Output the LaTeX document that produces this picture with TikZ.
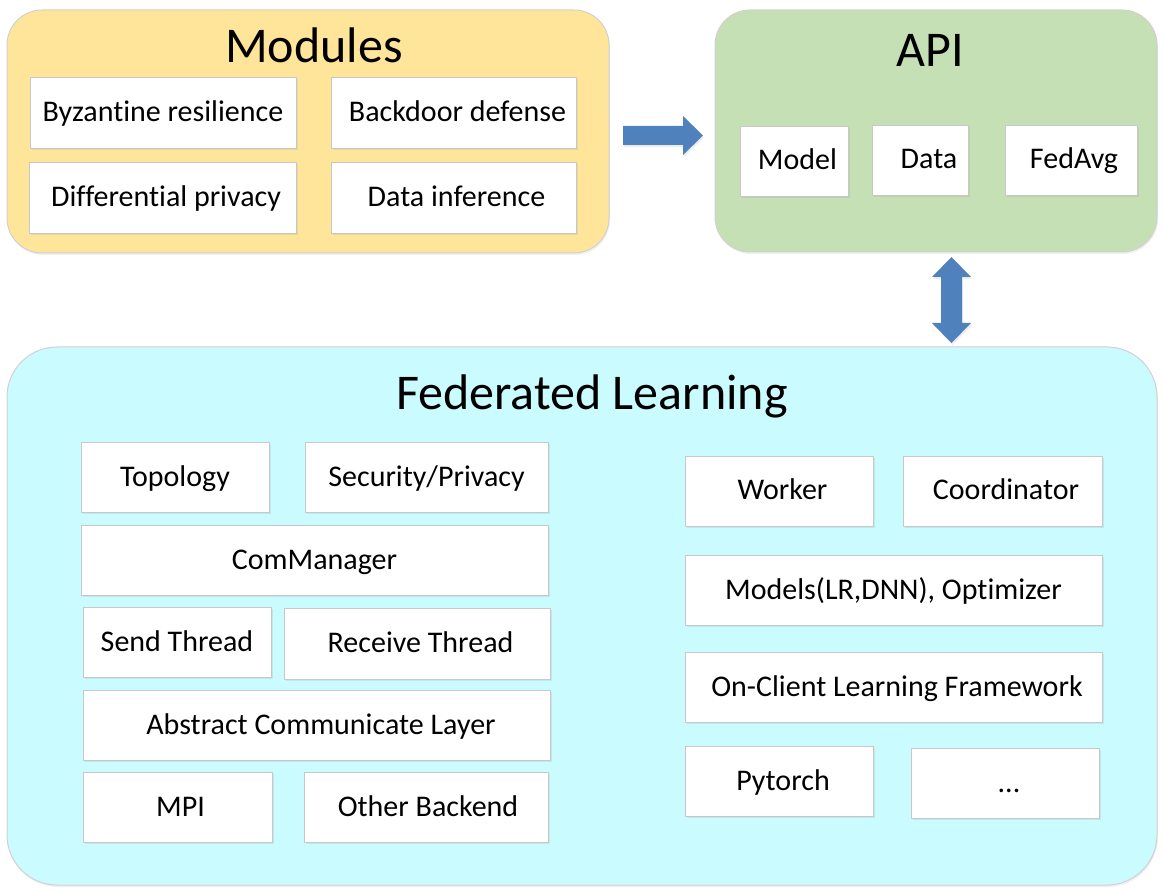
\documentclass[tikz,border=0pt]{standalone}
\usepackage{fontspec}
\setmainfont{Carlito}[Ligatures=NoCommon]
\usetikzlibrary{shadows}
\definecolor{modfill}{HTML}{FFE599}
\definecolor{apifill}{HTML}{C5E0B4}
\definecolor{flfill}{HTML}{CAFBFE}
\definecolor{arrowblue}{HTML}{4F81BD}
\definecolor{boxborder}{HTML}{C8C8C8}
\tikzset{
  container/.style={draw=black!18, line width=1pt, drop shadow={shadow xshift=1pt, shadow yshift=-2pt, opacity=0.12}},
  titletext/.style={font=\fontsize{50}{56}\selectfont, inner sep=0pt},
  box/.style={draw=boxborder, line width=0.8pt, fill=white, font=\fontsize{30}{34}\selectfont, inner sep=0pt, text height=24pt, text depth=6pt, drop shadow={shadow xshift=1.5pt, shadow yshift=-2pt, opacity=0.15}},
  blockarrow/.style={fill=arrowblue, drop shadow={shadow xshift=1pt, shadow yshift=-2pt, opacity=0.15}},
}
\begin{document}
\begin{tikzpicture}[x=1pt,y=-1pt]
\useasboundingbox (0,0) rectangle (1163,893);
% containers
\node[container, fill=modfill, rounded corners=35pt, minimum width=602pt, minimum height=243pt] (modules) at (308,131.5) {};
\node[container, fill=apifill, rounded corners=35pt, minimum width=442pt, minimum height=242pt] (api) at (936,131) {};
\node[container, fill=flfill, rounded corners=50pt, minimum width=1150pt, minimum height=538pt] (fl) at (582,616) {};
% titles
\node[titletext] (modtitle) at (314,45) {Modules};
\node[titletext] (apititle) at (930,50) {API};
\node[titletext] (fltitle) at (592,396) {Federated Learning};
% module boxes
\node[box, minimum width=266pt, minimum height=71pt] (byz) at (163,112.5) {Byzantine resilience};
\node[box, minimum width=245pt, minimum height=71pt] (backdoor) at (453.5,112.5) {\hspace{8pt}Backdoor defense};
\node[box, minimum width=267pt, minimum height=71pt] (diff) at (162.5,197.5) {\hspace{7pt}Differential privacy};
\node[box, minimum width=245pt, minimum height=71pt] (datainf) at (453.5,197.5) {\hspace{6pt}Data inference};
% api boxes
\node[box, minimum width=108pt, minimum height=70pt] (model) at (794,161) {\hspace{7pt}Model};
\node[box, minimum width=96pt, minimum height=70pt] (data) at (920,160) {\hspace{18pt}Data};
\node[box, minimum width=132pt, minimum height=70pt] (fedavg) at (1071,160) {\hspace{6pt}FedAvg};
% FL left
\node[box, minimum width=188pt, minimum height=70pt] (topo) at (175,477) {Topology};
\node[box, minimum width=243pt, minimum height=70pt] (secpriv) at (426.5,477) {Security/Privacy};
\node[box, minimum width=467pt, minimum height=70pt] (comm) at (314.5,560) {ComManager};
\node[box, minimum width=188pt, minimum height=70pt] (send) at (177,642) {Send Thread};
\node[box, minimum width=266pt, minimum height=71pt] (recv) at (417,643.5) {\hspace{7pt}Receive Thread};
\node[box, minimum width=467pt, minimum height=70pt] (abstract) at (316.5,725) {\hspace{9pt}Abstract Communicate Layer};
\node[box, minimum width=189pt, minimum height=70pt] (mpi) at (177.5,807) {\hspace{6pt}MPI};
\node[box, minimum width=244pt, minimum height=70pt] (other) at (426,807) {\hspace{4pt}Other Backend};
% FL right
\node[box, minimum width=188pt, minimum height=70pt] (worker) at (779,491) {\hspace{7pt}Worker};
\node[box, minimum width=199pt, minimum height=70pt] (coord) at (1002.5,491) {\hspace{7pt}Coordinator};
\node[box, minimum width=417pt, minimum height=70pt] (models) at (893.5,590) {Models(LR,DNN), Optimizer};
\node[box, minimum width=417pt, minimum height=70pt] (onclient) at (893.5,687) {\hspace{7pt}On-Client Learning Framework};
\node[box, minimum width=188pt, minimum height=70pt] (pytorch) at (779,781) {\hspace{8pt}Pytorch};
\node[box, minimum width=188pt, minimum height=70pt] (dots) at (1005,783) {\hspace{8pt}...};
% block arrows
\fill[blockarrow] (623,126) -- (683,126) -- (683,116) -- (703,135.5) -- (683,155) -- (683,145) -- (623,145) -- cycle;
\fill[blockarrow] (951.5,257) -- (971,277) -- (962,277) -- (962,323) -- (971,323) -- (951.5,343) -- (932,323) -- (941,323) -- (941,277) -- (932,277) -- cycle;
\end{tikzpicture}
\end{document}
